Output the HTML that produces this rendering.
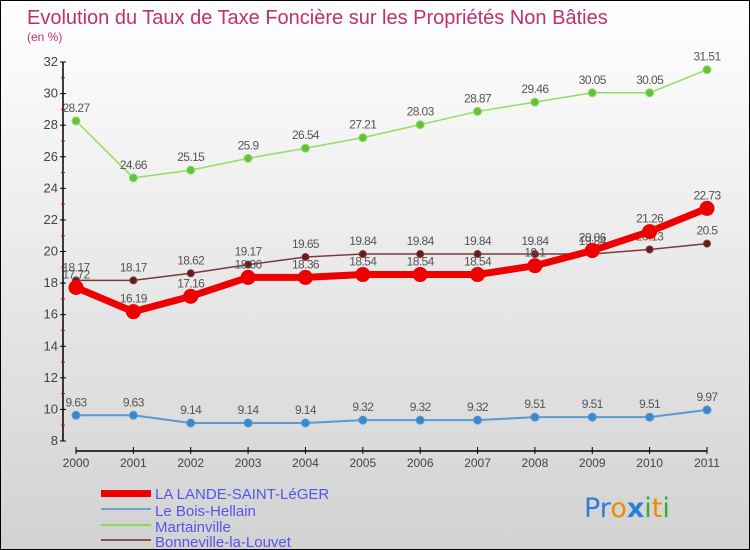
<!DOCTYPE html>
<html><head><meta charset="utf-8"><style>
body{margin:0;padding:0}
#wrap{width:750px;height:550px;position:relative;overflow:hidden;box-sizing:border-box;border:1px solid #000;background:linear-gradient(#ffffff,#d2d2d2);font-family:"Liberation Sans",sans-serif}
</style></head><body>
<div id="wrap">
<svg id="svg" width="750" height="550" style="position:absolute;left:0;top:0;font-family:'Liberation Sans',sans-serif">
<text x="26" y="23" font-size="20" fill="#c0306a">Evolution du Taux de Taxe Foncière sur les Propriétés Non Bâties</text>
<text x="26" y="40" font-size="12" fill="#c0306a">(en %)</text>
<g id="axes"></g><g id="series"></g>
<g>
<rect x="100" y="489" width="50" height="7" fill="#ee0000"/>
<text x="154" y="498" font-size="15" fill="#5555ee">LA LANDE-SAINT-LéGER</text>
<rect x="100" y="507" width="50" height="2" fill="#6aa4d4"/>
<text x="154" y="515" font-size="15" fill="#5555ee">Le Bois-Hellain</text>
<rect x="100" y="523" width="50" height="2" fill="#88d860"/>
<text x="154" y="531" font-size="15" fill="#5555ee">Martainville</text>
<rect x="100" y="538" width="50" height="2" fill="#8a5050"/>
<text x="154" y="546" font-size="15" fill="#5555ee">Bonneville-la-Louvet</text>
</g>
<text x="583" y="516" font-size="27" font-family="DejaVu Sans, sans-serif"><tspan fill="#2a7fd8">Pr</tspan><tspan fill="#f08a00">o</tspan><tspan fill="#2a7fd8" font-weight="bold">x</tspan><tspan fill="#38a838">i</tspan><tspan fill="#f08a00">t</tspan><tspan fill="#38a838">i</tspan></text>
</svg>
</div>
<script>
const years=["2000","2001","2002","2003","2004","2005","2006","2007","2008","2009","2010","2011"];
const yTicks=[8,10,12,14,16,18,20,22,24,26,28,30,32];
const lande=[17.72,16.19,17.16,18.36,18.36,18.54,18.54,18.54,19.1,20.06,21.26,22.73];
const bois=[9.63,9.63,9.14,9.14,9.14,9.32,9.32,9.32,9.51,9.51,9.51,9.97];
const martainville=[28.27,24.66,25.15,25.9,26.54,27.21,28.03,28.87,29.46,30.05,30.05,31.51];
const bonneville=[18.17,18.17,18.62,19.17,19.65,19.84,19.84,19.84,19.84,19.84,20.13,20.5];
const NS="http://www.w3.org/2000/svg";
const x0=75,x1=706,yTop=61,yBot=440,vMin=8,vMax=32;
const X=i=>x0+i*(x1-x0)/(years.length-1);
const Y=v=>yBot-(v-vMin)*(yBot-yTop)/(vMax-vMin);
function mk(t,a,p){const e=document.createElementNS(NS,t);for(const k in a)e.setAttribute(k,a[k]);p.appendChild(e);return e;}
const ax=document.getElementById('axes');
let e=mk('line',{x1:62,y1:yTop,x2:62,y2:yBot,stroke:'#000','stroke-width':1.5},ax);


yTicks.forEach(v=>{
 mk('line',{x1:59,y1:Y(v),x2:65,y2:Y(v),stroke:'#000'},ax);
 if(v<vMax) mk('line',{x1:60,y1:Y(v+1),x2:64,y2:Y(v+1),stroke:'#e00'},ax);
 const t=mk('text',{x:57,y:Y(v)+4,'font-size':13,fill:'#444','text-anchor':'end'},ax);t.textContent=v;
 
 
});
e=mk('line',{x1:x0,y1:450,x2:x1,y2:450,stroke:'#000','stroke-width':1.5},ax);


years.forEach((y,i)=>{
 mk('line',{x1:X(i),y1:446,x2:X(i),y2:453,stroke:'#000'},ax);
 const t=mk('text',{x:X(i),y:466,'font-size':12,fill:'#444','text-anchor':'middle'},ax);t.textContent=y;
 
 
});
const sg=document.getElementById('series');
function series(name,vals,color,w,r,dot,labels){
 const g=mk('g',{},sg);
 
 
 const p=mk('polyline',{points:vals.map((v,i)=>X(i)+','+Y(v)).join(' '),fill:'none',stroke:color,'stroke-width':w,'stroke-linejoin':'round'},g);
 
 
 vals.forEach((v,i)=>{
  const c=mk('circle',{cx:X(i),cy:Y(v),r:r,fill:dot,stroke:color,'stroke-width':1},g);
  
  
  if(labels){const t=mk('text',{x:X(i),y:Y(v)-9,'font-size':12,fill:'#555','text-anchor':'middle','letter-spacing':'-0.6'},g);t.textContent=v;
  
  }
 });
}
series('bois',bois,'#5a9ad0',2,4,'#3a88cc',true);
series('martainville',martainville,'#90dd68',1.5,4,'#66c03a',true);
series('bonneville',bonneville,'#7a3a3a',1.5,3.5,'#6a1a1a',true);
series('lande',lande,'#ee0000',7,7,'#ee0000',true);
</script>
</body></html>
